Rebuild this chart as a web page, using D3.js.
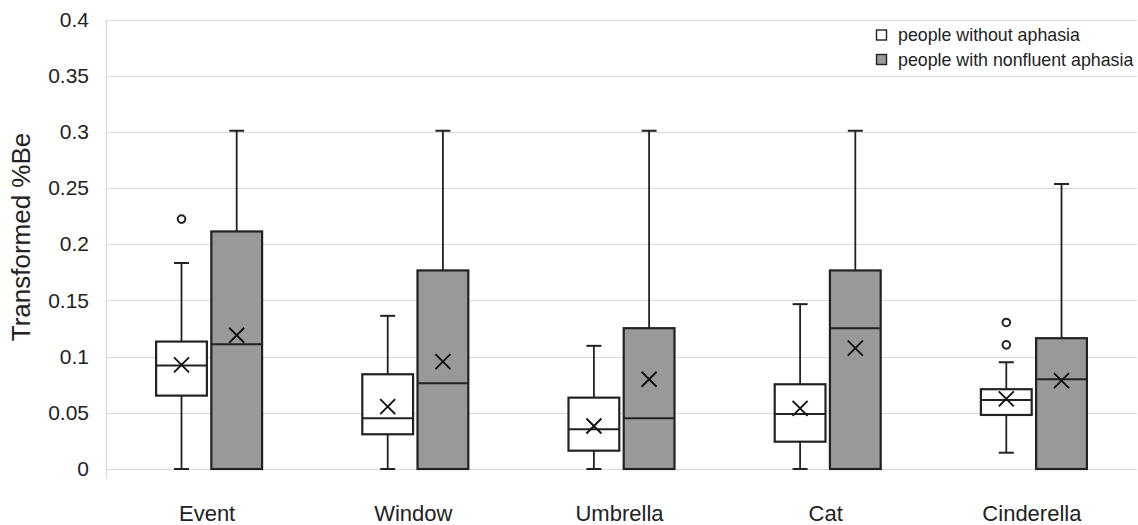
<!DOCTYPE html>
<html>
<head>
<meta charset="utf-8">
<script src="https://cdn.jsdelivr.net/npm/d3@7"></script>
<style>
  body { margin: 0; background: #fff; }
  text { font-family: "Liberation Sans", Arial, sans-serif; fill: #222; }
</style>
</head>
<body>
<div id="chart"></div>
<script>
// data
const categories = ['Event', 'Window', 'Umbrella', 'Cat', 'Cinderella'];
const groups = ['people without aphasia', 'people with nonfluent aphasia'];
const yTicks = [0, 0.05, 0.1, 0.15, 0.2, 0.25, 0.3, 0.35, 0.4];

// people without aphasia
const noLow = [0, 0, 0, 0, 0.0145];
const noQ1 = [0.0653, 0.0309, 0.0163, 0.0243, 0.0481];
const noMed = [0.092, 0.0451, 0.0353, 0.049, 0.0615];
const noQ3 = [0.1134, 0.0843, 0.0635, 0.0754, 0.071];
const noHigh = [0.1833, 0.1363, 0.1096, 0.1467, 0.095];
const noMean = [0.0927, 0.0555, 0.0383, 0.054, 0.0624];
const noOut = [[0.2224], [], [], [], [0.1304, 0.1105]];

// people with nonfluent aphasia
const nfLow = [0, 0, 0, 0, 0];
const nfQ1 = [0, 0, 0, 0, 0];
const nfMed = [0.111, 0.0763, 0.0451, 0.1253, 0.0799];
const nfQ3 = [0.2114, 0.1767, 0.1253, 0.1767, 0.1164];
const nfHigh = [0.301, 0.301, 0.301, 0.301, 0.2536];
const nfMean = [0.119, 0.0956, 0.0799, 0.1075, 0.0787];
const nfOut = [[], [], [], [], []];

const width = 1138;
const height = 525;
const plot = { left: 106, right: 1137, top: 19.5, bottom: 469 };
const fills = ['#ffffff', '#999999'];
const ink = '#222222';

const svg = d3.select('#chart')
  .append('svg')
  .attr('width', width)
  .attr('height', height);

/* Scales */
const x = d3.scaleBand()
  .domain(categories)
  .range([plot.left, plot.right]);

const xGroup = d3.scaleBand()
  .domain(groups)
  .range([x.bandwidth() / 2 - 53, x.bandwidth() / 2 + 53])
  .paddingInner(0.08);

const y = d3.scaleLinear()
  .domain([0, 0.4])
  .range([plot.bottom, plot.top]);

/* Gridlines */
svg.append('g')
  .selectAll('line')
  .data(yTicks)
  .enter()
  .append('line')
  .attr('x1', plot.left)
  .attr('x2', plot.right)
  .attr('y1', d => Math.round(y(d)) + 0.5)
  .attr('y2', d => Math.round(y(d)) + 0.5)
  .style('stroke', '#d9d9d9')
  .style('stroke-width', 1.2);

svg.append('line')
  .attr('x1', plot.left + 0.5)
  .attr('x2', plot.left + 0.5)
  .attr('y1', y(0.4))
  .attr('y2', y(0) + 10)
  .style('stroke', '#d9d9d9')
  .style('stroke-width', 1.2);

/* Axes */
const yAxis = d3.axisLeft(y)
  .tickValues(yTicks)
  .tickFormat(d => String(+d.toFixed(2)))
  .tickSize(0)
  .tickPadding(17);

const yg = svg.append('g')
  .attr('transform', `translate(${plot.left}, 0)`)
  .call(yAxis);
yg.select('.domain').remove();
yg.selectAll('text')
  .style('font-size', '21px')
  .attr('fill', ink);

const xAxis = d3.axisBottom(x).tickSize(0).tickPadding(36);
const xg = svg.append('g')
  .attr('transform', `translate(-2, ${plot.bottom})`)
  .call(xAxis);
xg.select('.domain').remove();
xg.selectAll('text')
  .style('font-size', '22px')
  .attr('fill', ink);

/* Y title */
svg.append('text')
  .attr('transform', `translate(21, 237) rotate(-90)`)
  .attr('text-anchor', 'middle')
  .attr('dominant-baseline', 'central')
  .style('font-size', '26px')
  .text('Transformed %Be');

/* Boxes */
const series = [
  { name: groups[0], low: noLow, q1: noQ1, med: noMed, q3: noQ3, high: noHigh, mean: noMean, out: noOut },
  { name: groups[1], low: nfLow, q1: nfQ1, med: nfMed, q3: nfQ3, high: nfHigh, mean: nfMean, out: nfOut }
];

const boxes = [];
series.forEach((s, si) => {
  categories.forEach((c, i) => {
    boxes.push({
      cat: c, group: s.name, si: si,
      low: s.low[i], q1: s.q1[i], med: s.med[i], q3: s.q3[i], high: s.high[i],
      mean: s.mean[i], out: s.out[i]
    });
  });
});

const bw = xGroup.bandwidth();
const capW = 15;
const box = svg.append('g')
  .selectAll('g')
  .data(boxes)
  .enter()
  .append('g')
  .attr('transform', d => `translate(${x(d.cat) + xGroup(d.group)}, 0)`);

// whiskers
box.append('line')
  .attr('x1', bw / 2).attr('x2', bw / 2)
  .attr('y1', d => y(d.high)).attr('y2', d => y(d.low))
  .style('stroke', ink).style('stroke-width', 1.8);
box.append('line')
  .attr('x1', bw / 2 - capW / 2).attr('x2', bw / 2 + capW / 2)
  .attr('y1', d => y(d.high)).attr('y2', d => y(d.high))
  .style('stroke', ink).style('stroke-width', 2);
box.append('line')
  .attr('x1', bw / 2 - capW / 2).attr('x2', bw / 2 + capW / 2)
  .attr('y1', d => y(d.low)).attr('y2', d => y(d.low))
  .style('stroke', ink).style('stroke-width', 2);

// box
box.append('rect')
  .attr('x', 0)
  .attr('width', bw)
  .attr('y', d => y(d.q3))
  .attr('height', d => y(d.q1) - y(d.q3))
  .style('fill', d => fills[d.si])
  .style('stroke', ink)
  .style('stroke-width', 2.2);

// median
box.append('line')
  .attr('x1', 0).attr('x2', bw)
  .attr('y1', d => y(d.med)).attr('y2', d => y(d.med))
  .style('stroke', ink).style('stroke-width', 2);

// mean marker
const mx = 7.5;
box.append('path')
  .attr('d', d => {
    const cy = y(d.mean);
    const cx = bw / 2;
    return `M${cx - mx},${cy - mx}L${cx + mx},${cy + mx}M${cx - mx},${cy + mx}L${cx + mx},${cy - mx}`;
  })
  .style('stroke', '#111')
  .style('stroke-width', 1.9)
  .style('fill', 'none');

// outliers
box.selectAll('circle')
  .data(d => d.out)
  .enter()
  .append('circle')
  .attr('cx', bw / 2)
  .attr('cy', d => y(d))
  .attr('r', 3.8)
  .style('fill', '#fff')
  .style('stroke', ink)
  .style('stroke-width', 2);

/* Legend */
const legend = svg.append('g')
  .selectAll('g')
  .data(groups)
  .enter()
  .append('g')
  .attr('transform', (_, i) => `translate(876, ${30 + i * 24.5})`);

legend.append('rect')
  .attr('x', 0.5).attr('y', 0)
  .attr('width', 10).attr('height', 10)
  .style('fill', (_, i) => fills[i])
  .style('stroke', ink)
  .style('stroke-width', 1.4);

legend.append('text')
  .attr('x', 22)
  .attr('y', 5)
  .attr('dominant-baseline', 'central')
  .style('font-size', '17.8px')
  .text(d => d);
</script>
</body>
</html>
